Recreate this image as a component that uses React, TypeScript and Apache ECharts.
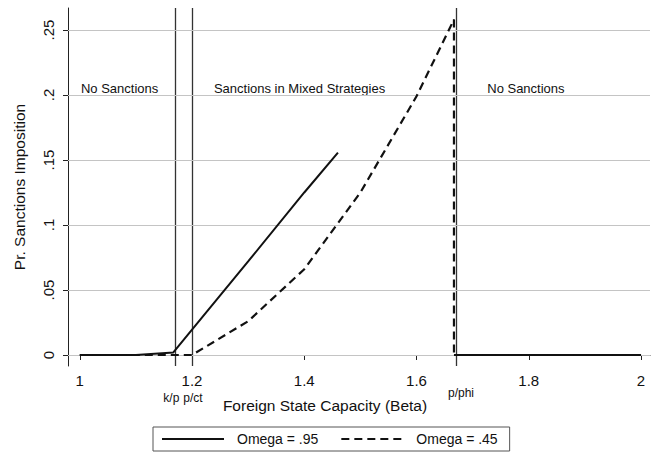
import React, { useEffect, useRef } from "react";
import * as echarts from "echarts";

const xTicks = [1, 1.2, 1.4, 1.6, 1.8, 2];
const yTicks = [0, 0.05, 0.1, 0.15, 0.2, 0.25];

// Omega = .95 (solid)
const solidBeta = [1, 1.1, 1.1667, 1.2, 1.3, 1.4, 1.46, 1.55, 1.6667, 1.8, 2];
const solidVal: (number | string)[] = [0, 0, 0.002, 0.0195, 0.072, 0.125, 0.1556, "-", 0, 0, 0];

// Omega = .45 (dashed)
const dashBeta = [1, 1.1, 1.2, 1.3, 1.4, 1.5, 1.6, 1.6667, 1.6667, 1.8, 2];
const dashVal = [0, 0, 0, 0.026, 0.066, 0.125, 0.199, 0.258, 0, 0, 0];

const thresholds = [1.1667, 1.2, 1.6667];
const thresholdLabels = ["k/p", "p/ct", "p/phi"];

const regionText = ["No Sanctions", "Sanctions in Mixed Strategies", "No Sanctions"];
const regionX = [1.002, 1.239, 1.726];
const regionY = 0.2046;

const FONT = "Liberation Sans, Arial, sans-serif";

export default function App() {
  const ref = useRef<HTMLDivElement>(null);
  useEffect(() => {
    document.body.style.margin = "0";
    const chart = echarts.init(ref.current!, null, { renderer: "svg" });
    const gridLines = yTicks.map((v) => ({
      yAxis: v,
      lineStyle: { color: "#c4c4c4", type: "solid", width: 1, opacity: 1 },
    }));
    const vLines = thresholds.map((v) => ({
      xAxis: v,
      lineStyle: { color: "#333", type: "solid", width: 1.3 },
    }));
    const option: any = {
      animation: false,
      textStyle: { fontFamily: FONT },
      grid: { left: 68, top: 8, right: 3, bottom: 93, outerBoundsMode: "none", containLabel: false },
      xAxis: {
        type: "value",
        min: 0.979,
        max: 2.016,
        axisLine: { show: true, lineStyle: { color: "#222", width: 1 } },
        axisTick: { show: true, length: 5, customValues: xTicks, lineStyle: { color: "#222" } },
        axisLabel: {
          customValues: xTicks,
          color: "#111",
          fontSize: 15,
          margin: 7,
          fontFamily: FONT,
          formatter: (v: number) => String(v),
        },
        splitLine: { show: false },
      },
      yAxis: {
        type: "value",
        min: -0.00846,
        max: 0.2669,
        name: "Pr. Sanctions Imposition",
        nameLocation: "middle",
        nameGap: 41,
        nameTextStyle: { fontSize: 15.5, color: "#111", fontFamily: FONT },
        axisLine: { show: true, lineStyle: { color: "#222", width: 1 } },
        axisTick: { show: true, length: 5, customValues: yTicks, lineStyle: { color: "#222" } },
        axisLabel: {
          customValues: yTicks,
          rotate: 90,
          color: "#111",
          fontSize: 15,
          margin: 12,
          fontFamily: FONT,
          formatter: (v: number) => (v === 0 ? "0" : String(v).replace(/^0/, "")),
        },
        splitLine: { show: false },
      },
      legend: {
        left: 153,
        top: 427,
        padding: [5, 12, 5, 8],
        borderColor: "#555",
        borderWidth: 1,
        itemWidth: 62,
        itemHeight: 10,
        itemGap: 22,
        itemStyle: { opacity: 0 },
        textStyle: { fontSize: 14, color: "#111", fontFamily: FONT, padding: [0, 0, 0, 8] },
        data: ["Omega = .95", "Omega = .45"],
      },
      series: [
        {
          type: "line",
          name: "Omega = .95",
          data: solidBeta.map((b, i) => [b, solidVal[i]]),
          showSymbol: false,
          symbol: "none",
          connectNulls: false,
          z: 3,
          lineStyle: { color: "#111", width: 2, type: "solid" },
          itemStyle: { color: "#111" },
          markLine: {
            silent: true,
            z: 1,
            symbol: "none",
            label: { show: false },
            data: vLines,
          },
        },
        {
          type: "line",
          name: "Omega = .45",
          data: dashBeta.map((b, i) => [b, dashVal[i]]),
          showSymbol: false,
          symbol: "none",
          z: 4,
          lineStyle: { color: "#111", width: 2.2, type: [8, 5] },
          itemStyle: { color: "#111" },
          markLine: {
            silent: true,
            z: 1,
            symbol: "none",
            label: { show: false },
            data: gridLines,
          },
        },
      ],
    };
    chart.setOption(option);

    const g: any[] = [];
    regionText.forEach((t, i) => {
      const p = chart.convertToPixel({ gridIndex: 0 }, [regionX[i], regionY]);
      g.push({
        type: "text",
        x: p[0],
        y: p[1],
        style: { text: t, fontSize: 13, fill: "#111", fontFamily: FONT, align: "left", verticalAlign: "middle" },
      });
    });
    thresholds.forEach((v, i) => {
      const p = chart.convertToPixel({ gridIndex: 0 }, [v, 0]);
      const isPhi = i === 2;
      g.push({
        type: "text",
        x: isPhi ? p[0] - 6 : i === 0 ? p[0] - 2 : p[0] + 1,
        y: isPhi ? 393 : 398,
        style: {
          text: thresholdLabels[i],
          fontSize: 12,
          fill: "#111",
          fontFamily: FONT,
          align: isPhi ? "left" : "center",
          verticalAlign: "middle",
        },
      });
    });
    g.push({
      type: "text",
      x: 325,
      y: 405,
      style: {
        text: "Foreign State Capacity (Beta)",
        fontSize: 15.5,
        fill: "#111",
        fontFamily: FONT,
        align: "center",
        verticalAlign: "middle",
      },
    });
    chart.setOption({ graphic: g });

    return () => chart.dispose();
  }, []);
  return <div ref={ref} style={{ width: 653, height: 459 }} />;
}
